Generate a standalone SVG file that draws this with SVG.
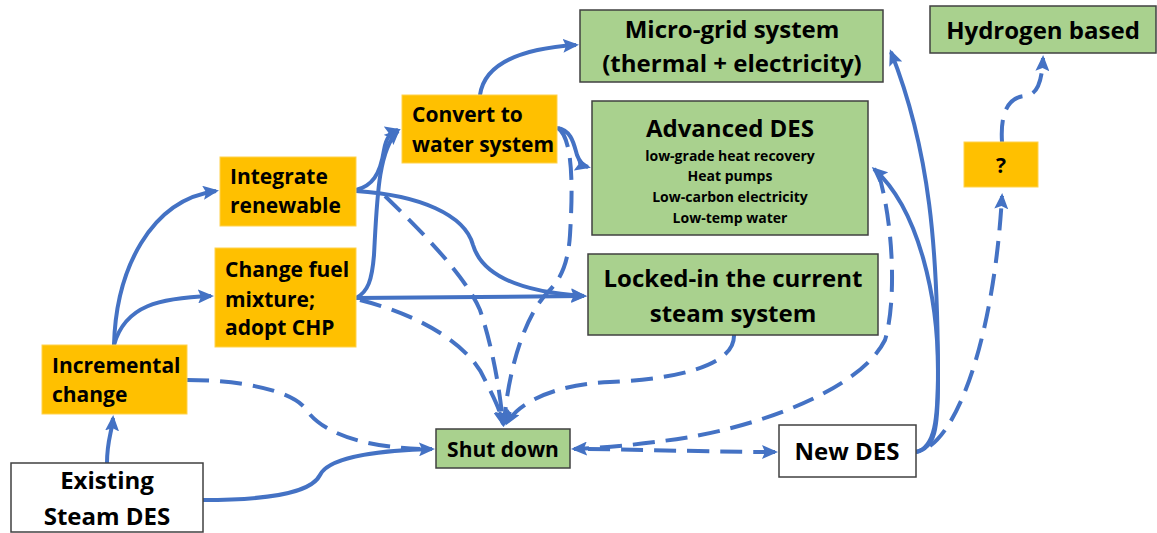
<svg xmlns="http://www.w3.org/2000/svg" width="1157" height="533" viewBox="0 0 1157 533">
<style>
.or{fill:#FFC000;stroke:#FFD24D;stroke-width:1}
.gr{fill:#A9D18E;stroke:#404040;stroke-width:1.5}
.wh{fill:#FFFFFF;stroke:#404040;stroke-width:1.5}
text{font-family:"Open Sans",Lato,"Liberation Sans",sans-serif;font-weight:bold;fill:#000}
.t24{font-size:24px}
.t21{font-size:21px}
.t14{font-size:14px}
.c{text-anchor:middle}
.ln{fill:none;stroke:#4472C4;stroke-width:4}
.ds{stroke-dasharray:22 11}
.ar{marker-end:url(#ah)}
</style>
<defs>
<marker id="ah" markerUnits="userSpaceOnUse" markerWidth="16" markerHeight="14" viewBox="0 0 16 14" refX="13" refY="7" orient="auto">
<path d="M0,0 L16,7 L0,14 L3,7 z" fill="#4472C4"/>
</marker>
</defs>
<g id="connectors">
<path class="ln ar" d="M107 463 C107 440 112 432 113 418"/>
<path class="ln ar" d="M114 345 C116 270 150 200 216 191"/>
<path class="ln ar" d="M114 345 C125 305 160 298 211 296"/>
<path class="ln ar" d="M203 500 C260 500 310 495 320 475 C330 455 390 450 432 449"/>
<path class="ln ds" d="M187 380 C240 380 290 390 305 408 C318 428 350 446 420 449"/>
<path class="ln ar" d="M356 190 C372 186 380 175 384 150 C386 138 390 132 398 130"/>
<path class="ln ar" d="M356 298 C368 292 372 280 374 255 C377 200 378 150 398 131"/>
<path class="ln ar" d="M356 191 C420 195 465 215 473 245 C482 275 520 292 584 296"/>
<path class="ln ar" d="M356 298 C450 297 520 296 584 296"/>
<path class="ln ds ar" d="M385 196 C420 230 465 275 480 310 C492 345 500 390 503 424"/>
<path class="ln ds ar" d="M360 300 C420 315 470 345 485 380 C495 400 500 410 503 424"/>
<path class="ln ds ar" d="M558 128 C575 140 572 200 570 235 C568 265 560 280 548 292 C525 315 508 370 504 424"/>
<path class="ln ar" d="M480 95 C485 60 530 48 576 45"/>
<path class="ln ar" d="M557 128 C572 130 574 145 577 155 C580 163 584 166 588 167"/>
<path class="ln ds ar" d="M734 335 C735 370 660 380 610 382 C560 384 520 400 507 423"/>
<path class="ln ds ar" d="M878 172 C893 220 897 300 885 340 C860 390 760 425 690 437 C640 445 600 448 574 449"/>
<path class="ln ds ar" d="M588 449 C660 450 720 452 775 452"/>
<path class="ln ar" d="M916 452 C935 448 938 430 938 380 C938 250 930 150 891 52"/>
<path class="ln ar" d="M916 452 C935 448 938 420 938 370 C938 300 920 210 874 169"/>
<path class="ln ds ar" d="M930 446 C965 420 995 320 1002 196"/>
<path class="ln ds ar" d="M1002 142 C1000 110 1010 97 1025 96 C1038 95 1042 80 1043 58"/>
</g>
<g id="existing">
<rect class="wh" x="11" y="463" width="192" height="69"/>
<text class="t24 c" x="107" y="489">Existing</text>
<text class="t24 c" x="107" y="525">Steam DES</text>
</g>
<g id="incremental">
<rect class="or" x="42" y="345" width="145" height="69"/>
<text class="t21" x="52" y="373">Incremental</text>
<text class="t21" x="52" y="402">change</text>
</g>
<g id="integrate">
<rect class="or" x="220" y="157" width="136" height="69"/>
<text class="t21" x="230" y="184">Integrate</text>
<text class="t21" x="230" y="213">renewable</text>
</g>
<g id="changefuel">
<rect class="or" x="215" y="248" width="141" height="99"/>
<text class="t21" x="225" y="277">Change fuel</text>
<text class="t21" x="225" y="307">mixture;</text>
<text class="t21" x="225" y="335">adopt CHP</text>
</g>
<g id="convert">
<rect class="or" x="402" y="95" width="155" height="68"/>
<text class="t21" x="412" y="122">Convert to</text>
<text class="t21" x="412" y="152">water system</text>
</g>
<g id="microgrid">
<rect class="gr" x="580" y="10" width="303" height="72"/>
<text class="t24 c" x="732" y="38">Micro-grid system</text>
<text class="t24 c" x="732" y="72">(thermal + electricity)</text>
</g>
<g id="advanced">
<rect class="gr" x="592" y="101" width="276" height="134"/>
<text class="t24 c" x="730" y="137">Advanced DES</text>
<text class="t14 c" x="730" y="161">low-grade heat recovery</text>
<text class="t14 c" x="730" y="181">Heat pumps</text>
<text class="t14 c" x="730" y="202">Low-carbon electricity</text>
<text class="t14 c" x="730" y="223">Low-temp water</text>
</g>
<g id="locked">
<rect class="gr" x="588" y="254" width="290" height="81"/>
<text class="t24 c" x="733" y="287">Locked-in the current</text>
<text class="t24 c" x="733" y="322">steam system</text>
</g>
<g id="shutdown">
<rect class="gr" x="436" y="429" width="134" height="39"/>
<text class="t21 c" x="503" y="457">Shut down</text>
</g>
<g id="newdes">
<rect class="wh" x="779" y="425" width="137" height="52"/>
<text class="t24 c" x="847" y="460">New DES</text>
</g>
<g id="hydrogen">
<rect class="gr" x="930" y="6" width="226" height="47"/>
<text class="t24 c" x="1043" y="39">Hydrogen based</text>
</g>
<g id="question">
<rect class="or" x="964" y="142" width="74" height="45"/>
<text class="t21 c" x="1001" y="173">?</text>
</g>
</svg>
